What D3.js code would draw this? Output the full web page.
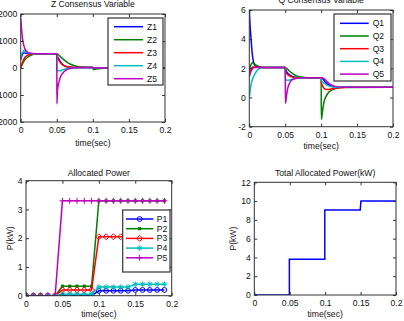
<!DOCTYPE html>
<html>
<head>
<meta charset="utf-8">
<script src="https://cdn.jsdelivr.net/npm/d3@7"></script>
<style>
body { margin: 0; background: #fff; overflow: hidden; }
text { font-family: "Liberation Sans", Arial, sans-serif; font-size: 8.6px; fill: #111; }
</style>
</head>
<body>
<div id="chart"></div>
<script>
// ---- data ----
const timeTicks = [0, 0.05, 0.1, 0.15, 0.2];
const timeTickLabels = ["0", "0.05", "0.1", "0.15", "0.2"];

// Z consensus variable, [time, value]
const z1 = [[0,300],[0.002,480],[0.004,560],[0.007,545],[0.012,530],[0.05,530],[0.0505,470],[0.053,330],[0.056,190],[0.06,90],[0.065,45],[0.07,25],[0.08,15],[0.1,15],[0.102,5],[0.11,0],[0.2,0]];
const z2 = [[0,0],[0.003,180],[0.006,310],[0.01,410],[0.015,480],[0.02,515],[0.03,530],[0.05,530],[0.052,500],[0.055,420],[0.06,300],[0.065,200],[0.07,130],[0.075,80],[0.08,50],[0.09,25],[0.1,15],[0.1005,-55],[0.105,-35],[0.11,-15],[0.12,-3],[0.2,0]];
const z3 = [[0,0],[0.003,250],[0.006,400],[0.01,480],[0.015,520],[0.02,530],[0.05,530],[0.0505,420],[0.053,280],[0.056,170],[0.06,90],[0.065,45],[0.07,25],[0.08,15],[0.1,15],[0.101,0],[0.2,0]];
const z4 = [[0,380],[0.002,560],[0.004,640],[0.006,620],[0.009,570],[0.013,540],[0.02,530],[0.05,530],[0.0502,-90],[0.055,-100],[0.058,-70],[0.062,-35],[0.068,-5],[0.075,10],[0.1,15],[0.101,0],[0.2,0]];
const z5 = [[0,1850],[0.001,1500],[0.002,1200],[0.003,1000],[0.0045,820],[0.006,700],[0.008,620],[0.01,580],[0.014,545],[0.02,530],[0.05,530],[0.0502,-1320],[0.051,-820],[0.053,-520],[0.056,-280],[0.06,-140],[0.064,-60],[0.07,-10],[0.08,15],[0.1,15],[0.101,0],[0.2,0]];
const zTicks = [-2000, -1000, 0, 1000, 2000];

// Q consensus variable, [time, value]
const q1 = [[0,6.0],[0.001,5.0],[0.0024,4.05],[0.0038,3.15],[0.0056,2.5],[0.008,2.2],[0.012,2.1],[0.02,2.05],[0.05,2.05],[0.0505,1.95],[0.053,1.7],[0.056,1.55],[0.06,1.45],[0.066,1.38],[0.075,1.35],[0.1,1.35],[0.102,1.3],[0.106,1.05],[0.11,0.88],[0.115,0.78],[0.12,0.72],[0.13,0.7],[0.2,0.7]];
const q2 = [[0,1.9],[0.002,2.2],[0.004,2.38],[0.007,2.3],[0.01,2.2],[0.015,2.1],[0.02,2.06],[0.05,2.05],[0.052,2.0],[0.055,1.85],[0.06,1.65],[0.065,1.5],[0.07,1.42],[0.08,1.36],[0.1,1.35],[0.1003,-1.5],[0.102,-0.9],[0.104,-0.3],[0.107,0.1],[0.11,0.33],[0.115,0.52],[0.12,0.62],[0.13,0.68],[0.2,0.7]];
const q3 = [[0,1.7],[0.002,1.95],[0.005,2.1],[0.01,2.08],[0.02,2.05],[0.05,2.05],[0.0505,1.8],[0.053,1.6],[0.056,1.48],[0.06,1.4],[0.066,1.36],[0.1,1.35],[0.1005,1.0],[0.103,0.7],[0.106,0.57],[0.11,0.55],[0.116,0.6],[0.125,0.67],[0.135,0.7],[0.2,0.7]];
const q4 = [[0,0],[0.0024,0.86],[0.004,1.2],[0.007,1.54],[0.01,1.8],[0.014,1.98],[0.02,2.05],[0.05,2.05],[0.0503,1.25],[0.053,1.18],[0.056,1.2],[0.06,1.26],[0.066,1.32],[0.075,1.35],[0.1,1.35],[0.1005,1.15],[0.104,1.0],[0.108,0.85],[0.113,0.75],[0.12,0.7],[0.2,0.7]];
const q5 = [[0,1.4],[0.002,1.75],[0.004,1.95],[0.007,2.05],[0.05,2.05],[0.0503,-0.4],[0.052,0.2],[0.0535,0.63],[0.056,0.98],[0.058,1.15],[0.062,1.27],[0.068,1.33],[0.075,1.35],[0.1,1.35],[0.104,1.3],[0.108,1.1],[0.112,0.92],[0.117,0.8],[0.123,0.73],[0.13,0.7],[0.2,0.7]];
const qTicks = [-2, 0, 2, 4, 6];

// allocated power (kW), sampled every 0.01 s
const sampleTimes = [0,0.01,0.02,0.03,0.04,0.05,0.06,0.07,0.08,0.09,0.1,0.11,0.12,0.13,0.14,0.15,0.16,0.17,0.18,0.19];
const p1 = [0,0,0,0,0,0,0,0,0,0,0.17,0.17,0.17,0.17,0.17,0.2,0.2,0.2,0.2,0.2];
const p2 = [0,0,0,0,0,0.33,0.33,0.33,0.33,0.33,3.3,3.3,3.3,3.3,3.3,3.3,3.3,3.3,3.3,3.3];
const p3 = [0,0,0,0,0,0.2,0.2,0.2,0.2,0.2,2.05,2.05,2.05,2.05,2.05,2.05,2.05,2.05,2.05,2.05];
const p4 = [0,0,0,0,0,0.05,0.05,0.05,0.05,0.05,0.3,0.3,0.3,0.3,0.3,0.4,0.4,0.4,0.4,0.4];
const p5 = [0,0,0,0,0,3.3,3.3,3.3,3.3,3.3,3.3,3.3,3.3,3.3,3.3,3.3,3.3,3.3,3.3,3.3];
const pTicks = [0, 1, 2, 3, 4];

// total allocated power (kW)
const totalTimes = [0, 0.0495, 0.0495, 0.0995, 0.0995, 0.1495, 0.1505, 0.2];
const totalPower = [0, 0, 3.8, 3.8, 9.05, 9.05, 10, 10];
const totalTicks = [0, 2, 4, 6, 8, 10, 12];

const seriesColors = ["#0000ff", "#008000", "#ff0000", "#00bfbf", "#bf00bf"];

// ---- drawing ----
const svg = d3.select("#chart").append("svg")
	.attr("width", 404)
	.attr("height", 321);

function makeAxes(box, yDomain, yTicks, id) {
	const x = d3.scaleLinear().domain([0, 0.2]).range([box.l, box.r]);
	const y = d3.scaleLinear().domain(yDomain).range([box.b, box.t]);
	const g = svg.append("g");

	g.append("clipPath").attr("id", id)
		.append("rect")
		.attr("x", box.l).attr("y", box.t)
		.attr("width", box.r - box.l).attr("height", box.b - box.t);

	const plot = g.append("g").attr("clip-path", `url(#${id})`);
	const frame = g.append("g");

	const fmt = v => timeTickLabels[timeTicks.indexOf(v)];
	const axes = [
		[d3.axisBottom(x).tickValues(timeTicks).tickFormat(fmt).tickPadding(5), `translate(0,${box.b})`],
		[d3.axisTop(x).tickValues(timeTicks).tickFormat(""), `translate(0,${box.t})`],
		[d3.axisLeft(y).tickValues(yTicks).tickFormat(v => String(v)).tickPadding(3.5), `translate(${box.l},0)`],
		[d3.axisRight(y).tickValues(yTicks).tickFormat(""), `translate(${box.r},0)`]
	];
	axes.forEach(([ax, tr]) => {
		const a = frame.append("g").attr("transform", tr)
			.call(ax.tickSize(-3).tickSizeOuter(0));
		a.attr("font-size", null).attr("font-family", null);
		a.select(".domain").remove();
		a.selectAll("line").attr("stroke", "#333");
		a.selectAll("text").attr("fill", "#111");
	});

	frame.append("rect")
		.attr("x", box.l).attr("y", box.t)
		.attr("width", box.r - box.l).attr("height", box.b - box.t)
		.attr("fill", "none").attr("stroke", "#333").attr("stroke-width", 1);

	return { x, y, plot, frame, box };
}

function labels(ax, title, titleY, xlabelY, ylabel, ylabelX) {
	const cx = (ax.box.l + ax.box.r) / 2;
	svg.append("text").attr("x", cx).attr("y", titleY)
		.attr("text-anchor", "middle").text(title);
	svg.append("text").attr("x", cx).attr("y", xlabelY)
		.attr("text-anchor", "middle").text("time(sec)");
	if (ylabel) {
		const cy = (ax.box.t + ax.box.b) / 2;
		svg.append("text")
			.attr("transform", `translate(${ylabelX},${cy}) rotate(-90)`)
			.attr("text-anchor", "middle").text(ylabel);
	}
}

function marker(g, type, cx, cy, color) {
	if (type === "circle") {
		g.append("circle").attr("cx", cx).attr("cy", cy).attr("r", 2.4)
			.attr("fill", "none").attr("stroke", color).attr("stroke-width", 1);
	} else if (type === "square") {
		g.append("rect").attr("x", cx - 1.6).attr("y", cy - 1.6)
			.attr("width", 3.2).attr("height", 3.2).attr("fill", color);
	} else {
		const paths = {
			diamond: "M0,-3L3,0L0,3L-3,0Z",
			star: "M-2.8,0H2.8M0,-2.8V2.8M-2,-2L2,2M-2,2L2,-2",
			plus: "M-3,0H3M0,-3V3"
		};
		g.append("path").attr("d", paths[type])
			.attr("transform", `translate(${cx},${cy})`)
			.attr("fill", "none").attr("stroke", color).attr("stroke-width", 1);
	}
}

function legend(box, names, lineX0, lineX1, textX, rowY0, rowStep, markers) {
	const g = svg.append("g");
	g.append("rect")
		.attr("x", box.l).attr("y", box.t)
		.attr("width", box.r - box.l).attr("height", box.b - box.t)
		.attr("fill", "#fff").attr("stroke", "#333").attr("stroke-width", 1.2);
	names.forEach((n, i) => {
		const yy = rowY0 + i * rowStep;
		g.append("line")
			.attr("x1", lineX0).attr("x2", lineX1).attr("y1", yy).attr("y2", yy)
			.attr("stroke", seriesColors[i]).attr("stroke-width", 1.5);
		if (markers) marker(g, markers[i], (lineX0 + lineX1) / 2, yy, seriesColors[i]);
		g.append("text").attr("x", textX).attr("y", yy).attr("dy", "0.35em").text(n);
	});
}

// Z consensus
const zAx = makeAxes({ l: 20.7, r: 165, t: 14, b: 122 }, [-2000, 2000], zTicks, "clipZ");
const zLine = d3.line().x(d => zAx.x(d[0])).y(d => zAx.y(d[1])).curve(d3.curveMonotoneX);
[z1, z2, z3, z4, z5].forEach((s, i) => {
	zAx.plot.append("path").attr("d", zLine(s))
		.attr("fill", "none").attr("stroke", seriesColors[i]).attr("stroke-width", 1.5);
});
labels(zAx, "Z Consensus Variable", 7, 145.5);
legend({ l: 108, r: 163, t: 18, b: 85 }, ["Z1", "Z2", "Z3", "Z4", "Z5"], 114, 143, 147, 26.7, 13);

// Q consensus
const qAx = makeAxes({ l: 249.3, r: 393, t: 10, b: 126.7 }, [-2, 6], qTicks, "clipQ");
const qLine = d3.line().x(d => qAx.x(d[0])).y(d => qAx.y(d[1])).curve(d3.curveMonotoneX);
[q1, q2, q3, q4, q5].forEach((s, i) => {
	qAx.plot.append("path").attr("d", qLine(s))
		.attr("fill", "none").attr("stroke", seriesColors[i]).attr("stroke-width", 1.5);
});
labels(qAx, "Q Consensus Variable", 3, 148.5);
legend({ l: 334, r: 391, t: 14, b: 81 }, ["Q1", "Q2", "Q3", "Q4", "Q5"], 340, 368.7, 372.7, 23.3, 12.7);

// Allocated power
const pAx = makeAxes({ l: 26, r: 171.7, t: 180.7, b: 295.7 }, [0, 4], pTicks, "clipP");
const pMarkers = ["circle", "square", "diamond", "star", "plus"];
[p1, p2, p3, p4, p5].forEach((s, i) => {
	const pts = sampleTimes.map((t, k) => [t, s[k]]);
	pAx.plot.append("path")
		.attr("d", d3.line().x(d => pAx.x(d[0])).y(d => pAx.y(d[1]))(pts))
		.attr("fill", "none").attr("stroke", seriesColors[i]).attr("stroke-width", 1.5);
	pts.forEach(d => marker(pAx.plot, pMarkers[i], pAx.x(d[0]), pAx.y(d[1]), seriesColors[i]));
});
labels(pAx, "Allocated Power", 176, 316.5, "P(kW)", 13);
legend({ l: 122.7, r: 170, t: 210, b: 272 }, ["P1", "P2", "P3", "P4", "P5"], 126, 153.3, 156.7, 219, 9.7, pMarkers);

// Total allocated power
const tAx = makeAxes({ l: 254.3, r: 396, t: 182.3, b: 295 }, [0, 12], totalTicks, "clipT");
tAx.plot.append("path")
	.attr("d", d3.line().x((d, k) => tAx.x(totalTimes[k])).y(d => tAx.y(d))(totalPower))
	.attr("fill", "none").attr("stroke", "#0000ff").attr("stroke-width", 1.5);
labels(tAx, "Total Allocated Power(kW)", 176, 316.5, "P(kW)", 235.5);
</script>
</body>
</html>
